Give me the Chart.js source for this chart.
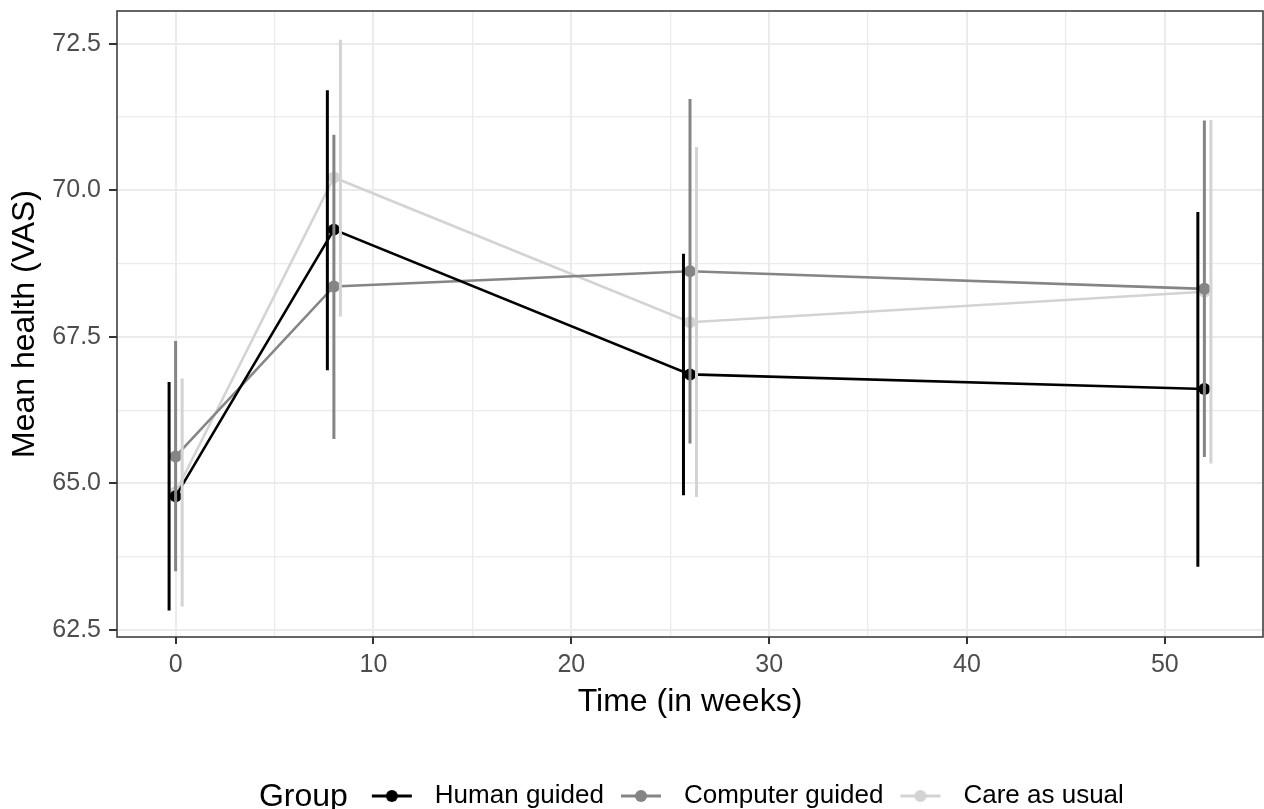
<!DOCTYPE html>
<html>
<head>
<meta charset="utf-8">
<script src="https://cdn.jsdelivr.net/npm/chart.js@4.4.1/dist/chart.umd.min.js"></script>
<style>
  html, body { margin: 0; padding: 0; background: #ffffff; }
  #wrap { width: 1264px; height: 809px; }
</style>
</head>
<body>
<div id="wrap"><canvas id="chart" width="1264" height="809"></canvas></div>
<script>
// Data
const weeks = [0, 8, 26, 52];
const groups = ['Human guided', 'Computer guided', 'Care as usual'];
const groupColors = ['#000000', '#858585', '#d3d3d3'];

const humanMean = [64.78, 69.33, 66.86, 66.61];
const humanLow = [62.83, 66.93, 64.80, 63.58];
const humanHigh = [66.73, 71.71, 68.92, 69.63];

const computerMean = [65.46, 68.36, 68.62, 68.32];
const computerLow = [63.50, 65.76, 65.68, 65.45];
const computerHigh = [67.43, 70.95, 71.56, 71.19];

const careMean = [64.85, 70.22, 67.75, 68.27];
const careLow = [62.90, 67.85, 64.77, 65.34];
const careHigh = [66.79, 72.57, 70.74, 71.20];

// error bars are dodged sideways (in weeks)
const dodge = [-0.33, 0, 0.33];

const xTicks = [0, 10, 20, 30, 40, 50];
const xTickLabels = ['0', '10', '20', '30', '40', '50'];
const xMinor = [5, 15, 25, 35, 45];
const yTicks = [62.5, 65, 67.5, 70, 72.5];
const yTickLabels = ['62.5', '65.0', '67.5', '70.0', '72.5'];
const yMinor = [63.75, 66.25, 68.75, 71.25];

const FONT = '"Liberation Sans", Arial, Helvetica, sans-serif';
Chart.defaults.font.family = FONT;

function meanPoints(means) {
    return weeks.map((w, i) => ({x: w, y: means[i]}));
}

// one segment per week, separated by null gaps
function barPoints(low, high, shift) {
    const pts = [];
    weeks.forEach((w, i) => {
        pts.push({x: w + shift, y: low[i]}, {x: w + shift, y: high[i]}, {x: w + shift, y: null});
    });
    return pts;
}

// ggplot style legend key: line with a dot in the middle
function legendKey(color) {
    const c = document.createElement('canvas');
    c.width = 64;
    c.height = 16;
    const g = c.getContext('2d');
    g.strokeStyle = color;
    g.lineWidth = 3;
    g.beginPath();
    g.moveTo(14, 8);
    g.lineTo(54, 8);
    g.stroke();
    g.fillStyle = color;
    g.beginPath();
    g.arc(34, 8, 6, 0, Math.PI * 2);
    g.fill();
    return c;
}
const blankKey = document.createElement('canvas');
blankKey.width = 1;
blankKey.height = 1;
const keys = groupColors.map(legendKey);

function lineSet(i, means, order) {
    return {
        label: groups[i],
        data: meanPoints(means),
        showLine: true,
        borderColor: groupColors[i],
        backgroundColor: groupColors[i],
        borderWidth: 2.6,
        pointRadius: 6,
        pointHoverRadius: 6,
        pointBorderWidth: 0,
        tension: 0,
        order: order
    };
}

function barSet(i, low, high, order) {
    return {
        label: groups[i] + ' CI',
        data: barPoints(low, high, dodge[i]),
        showLine: true,
        spanGaps: false,
        borderColor: groupColors[i],
        borderWidth: 3,
        borderCapStyle: 'butt',
        pointRadius: 0,
        pointHoverRadius: 0,
        pointHitRadius: 0,
        order: order
    };
}

const isMajorX = v => xTicks.includes(v);
const isMajorY = v => yTicks.includes(v);

// panel border drawn over the data, like theme_bw
const panelBorder = {
    id: 'panelBorder',
    afterDatasetsDraw(chart) {
        const a = chart.chartArea;
        const ctx = chart.ctx;
        ctx.save();
        ctx.strokeStyle = '#333333';
        ctx.lineWidth = 1.5;
        ctx.strokeRect(a.left, a.top, a.right - a.left, a.bottom - a.top);
        ctx.restore();
    }
};

// legend title "Group" sits left of the keys
const groupTitle = {
    id: 'groupTitle',
    afterDraw(chart) {
        const boxes = chart.legend && chart.legend.legendHitBoxes;
        if (!boxes || boxes.length < 2) return;
        const b = boxes[1];
        const ctx = chart.ctx;
        ctx.save();
        ctx.font = '32px ' + FONT;
        ctx.fillStyle = '#000000';
        ctx.textAlign = 'right';
        ctx.textBaseline = 'middle';
        ctx.fillText('Group', b.left + 14 - 24, b.top + b.height / 2 + 1);
        ctx.restore();
    }
};

const ctx = document.getElementById('chart').getContext('2d');
new Chart(ctx, {
    type: 'scatter',
    data: {
        datasets: [
            barSet(2, careLow, careHigh, 0),
            barSet(1, computerLow, computerHigh, 1),
            barSet(0, humanLow, humanHigh, 2),
            lineSet(0, humanMean, 3),
            lineSet(1, computerMean, 4),
            lineSet(2, careMean, 5)
        ]
    },
    options: {
        responsive: false,
        animation: false,
        layout: {autoPadding: false, padding: {top: 11, right: 1, bottom: -10, left: 0}},
        plugins: {
            tooltip: {enabled: false},
            legend: {
                position: 'bottom',
                fullSize: false,
                align: 'center',
                onClick: null,
                labels: {
                    usePointStyle: true,
                    pointStyleWidth: 64,
                    padding: 3,
                    color: '#000000',
                    font: {size: 26, family: FONT},
                    generateLabels: () => [{
                        text: '\u00a0\u00a0\u00a0',
                        pointStyle: blankKey,
                        fillStyle: 'rgba(0,0,0,0)',
                        strokeStyle: 'rgba(0,0,0,0)',
                        lineWidth: 0,
                        hidden: false
                    }].concat(groups.map((g, i) => ({
                        text: g,
                        pointStyle: keys[i],
                        fillStyle: groupColors[i],
                        strokeStyle: groupColors[i],
                        lineWidth: 0,
                        hidden: false
                    })))
                }
            }
        },
        scales: {
            x: {
                type: 'linear',
                min: -2.963,
                max: 54.963,
                afterBuildTicks: s => {
                    s.ticks = xTicks.concat(xMinor).sort((a, b) => a - b).map(v => ({value: v}));
                },
                afterFit: s => {
                    s.height = 143;
                    s.paddingLeft = 0;
                    s.paddingRight = 0;
                    s.paddingTop = 0;
                    s.paddingBottom = 0;
                },
                border: {display: false},
                grid: {
                    color: '#ebebeb',
                    lineWidth: c => (c.tick && isMajorX(c.tick.value)) ? 2 : 1.3,
                    drawTicks: true,
                    tickLength: 7,
                    tickWidth: 2,
                    tickColor: c => (c.tick && isMajorX(c.tick.value)) ? '#333333' : 'rgba(0,0,0,0)'
                },
                ticks: {
                    autoSkip: false,
                    maxRotation: 0,
                    padding: 6,
                    color: '#4d4d4d',
                    font: {size: 25, family: FONT},
                    callback: v => {
                        const i = xTicks.indexOf(v);
                        return i >= 0 ? xTickLabels[i] : '';
                    }
                },
                title: {
                    display: true,
                    text: 'Time (in weeks)',
                    color: '#000000',
                    font: {size: 32, family: FONT},
                    padding: {top: 0, bottom: 59}
                }
            },
            y: {
                type: 'linear',
                min: 62.38,
                max: 73.06,
                afterBuildTicks: s => {
                    s.ticks = yTicks.concat(yMinor).sort((a, b) => a - b).map(v => ({value: v}));
                },
                afterFit: s => {
                    s.width = 117;
                    s.paddingLeft = 0;
                    s.paddingRight = 0;
                    s.paddingTop = 0;
                    s.paddingBottom = 0;
                },
                border: {display: false},
                grid: {
                    color: '#ebebeb',
                    lineWidth: c => (c.tick && isMajorY(c.tick.value)) ? 2 : 1.3,
                    drawTicks: true,
                    tickLength: 8,
                    tickWidth: 2,
                    tickColor: c => (c.tick && isMajorY(c.tick.value)) ? '#333333' : 'rgba(0,0,0,0)'
                },
                ticks: {
                    autoSkip: false,
                    padding: 8,
                    color: '#4d4d4d',
                    font: {size: 25, family: FONT},
                    callback: v => {
                        const i = yTicks.indexOf(v);
                        return i >= 0 ? yTickLabels[i] : '';
                    }
                },
                title: {
                    display: true,
                    text: 'Mean health (VAS)',
                    color: '#000000',
                    font: {size: 32, family: FONT},
                    padding: {top: 6, bottom: 0}
                }
            }
        }
    },
    plugins: [panelBorder, groupTitle]
});
</script>
</body>
</html>
